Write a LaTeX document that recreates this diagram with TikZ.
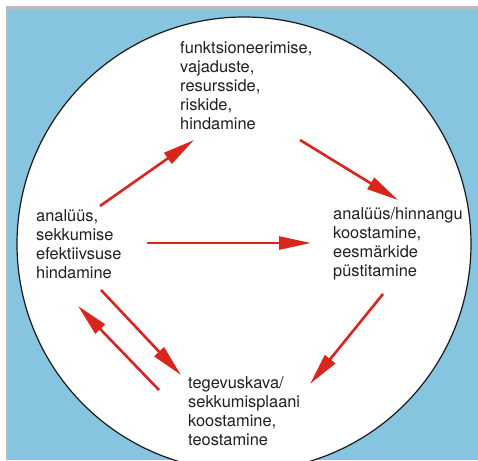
\documentclass[tikz,border=0pt]{standalone}
\usepackage{fontspec}
\setmainfont{TeX Gyre Heros}
\usetikzlibrary{arrows.meta}
\definecolor{bgblue}{HTML}{86C4E0}
\definecolor{arrred}{HTML}{DA251D}
\definecolor{framegrey}{HTML}{BBBBBB}
\definecolor{txt}{HTML}{231F20}
\tikzset{
  lbl/.style={anchor=base west, inner sep=0pt, align=left, text=txt,
    font=\fontsize{16.4}{19}\selectfont},
  flow/.style={draw=arrred, line width=2.6pt,
    -{Triangle[length=32pt,width=13pt]}},
}
\begin{document}
\begin{tikzpicture}[x=1pt,y=-1pt]
\useasboundingbox (0,0) rectangle (478,460);
\begin{scope}
\clip (0,0) rectangle (478,460);
\fill[bgblue] (7,7) rectangle (478,460);
\draw[framegrey, line width=2.5pt] (7,460) -- (7,7.5) -- (478,7.5);
\filldraw[fill=white, draw=black!90, line width=1.2pt] (244,244) circle (227);
\end{scope}
\node[lbl] (top) at (180,129) {funktsioneerimise,\\vajaduste,\\resursside,\\riskide,\\hindamine};
\node[lbl] (left) at (36,278) {analüüs,\\sekkumise\\efektiivsuse\\hindamine};
\node[lbl] (right) at (333,276) {analüüs/hinnangu\\koostamine,\\eesmärkide\\püstitamine};
\node[lbl] (bottom) at (188,445) {tegevuskava/\\sekkumisplaani\\koostamine,\\teostamine};
\coordinate (lt1) at (100,206);
\coordinate (lt2) at (194,140);
\coordinate (tr1) at (300,140);
\coordinate (tr2) at (398,200);
\coordinate (lr1) at (147,243);
\coordinate (lr2) at (311,243);
\coordinate (rb1) at (383,294);
\coordinate (rb2) at (310,384);
\coordinate (lb1) at (101,290);
\coordinate (lb2) at (181,375);
\coordinate (bl1) at (159,390);
\coordinate (bl2) at (78,306);
\draw[flow] (lt1) -- (lt2);
\draw[flow] (tr1) -- (tr2);
\draw[flow] (lr1) -- (lr2);
\draw[flow] (rb1) -- (rb2);
\draw[flow] (lb1) -- (lb2);
\draw[flow] (bl1) -- (bl2);
\end{tikzpicture}
\end{document}
